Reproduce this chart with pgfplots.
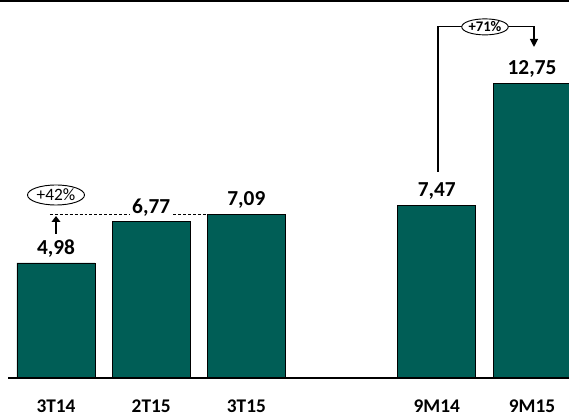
\documentclass[border=0pt]{standalone}
\usepackage{fontspec}
\setmainfont{Carlito}
\usepackage{pgfplots}
\pgfplotsset{compat=1.18}
\usetikzlibrary{arrows.meta,shapes.geometric}
\definecolor{barteal}{RGB}{0,94,86}
\begin{document}
\begin{tikzpicture}
\begin{axis}[
  scale only axis, width=426.75pt, height=312pt,
  xmin=-0.5882, xmax=5.3887, ymin=-1.645, ymax=16.364,
  axis line style={draw=none},
  major tick length=0pt,
  ytick=\empty,
  xtick={0,1,2,4,5},
  xticklabels={3T14,2T15,3T15,9M14,9M15},
  xticklabel style={anchor=center, inner sep=0pt, yshift=7pt, font=\fontsize{14.5}{16}\selectfont\bfseries},
  /pgf/number format/assume math mode=true,
]
\path (rel axis cs:0,0) rectangle (rel axis cs:1,1);
% dashed reference line at 3T15 level
\draw[line width=0.6pt, dash pattern=on 2.2pt off 1.5pt] (axis cs:-0.063,7.09) -- (axis cs:1.597,7.09);
\addplot[ybar, bar width=58.5pt, fill=barteal, draw=black, line width=0.6pt,
  nodes near coords={\pgfmathprintnumber[use comma,fixed,fixed zerofill,precision=2,assume math mode=true]{\pgfplotspointmeta}},
  every node near coord/.append style={anchor=base, yshift=6.4pt, fill=white, inner sep=1.5pt,
    font=\fontsize{16}{18}\selectfont\bfseries, text=black}]
  coordinates {(0,4.98) (1,6.77) (2,7.09) (4,7.47) (5,12.75)};
% baseline and top rule
\draw[line width=1pt] (axis cs:-0.504,0) -- (axis cs:5.3887,0);
\draw[line width=1.5pt] (axis cs:-0.5882,16.31) -- (axis cs:5.3887,16.31);
% +42% annotation
\draw[line width=1.8pt, -{Triangle[width=6.5pt,length=4.5pt]}] (axis cs:0,6.234) -- (axis cs:0,7.013);
\node[ellipse, draw, line width=0.7pt, fill=white, minimum width=42.75pt, minimum height=15pt, inner sep=0pt,
  font=\fontsize{13}{14}\selectfont] at (axis cs:0,7.922) {+42\%};
% +71% annotation
\draw[line width=0.9pt, -{Triangle[width=6pt,length=6pt]}] (axis cs:4.0126,8.918) |- (axis cs:5.021,15.2) -- (axis cs:5.021,14.33);
\node[ellipse, draw, line width=0.7pt, fill=white, minimum width=33pt, minimum height=12pt, inner sep=0pt,
  font=\fontsize{11}{12}\selectfont\bfseries] at (axis cs:4.506,15.2) {+71\%};
\end{axis}
\pgfresetboundingbox
\useasboundingbox (current axis.south west) rectangle (current axis.north east);
\end{tikzpicture}
\end{document}
